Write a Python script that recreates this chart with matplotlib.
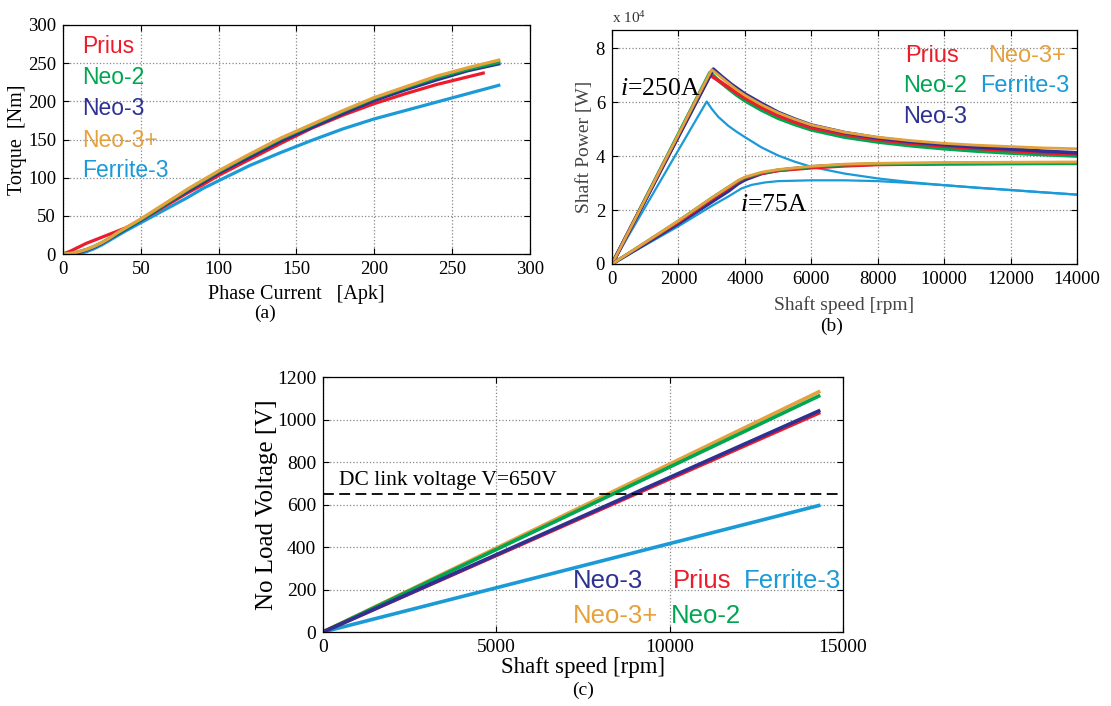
import numpy as np
import matplotlib
matplotlib.use('Agg')
import matplotlib.pyplot as plt

# colours for the five machines
c_prius = '#ec1c2a'
c_neo2 = '#00a651'
c_neo3 = '#2e3192'
c_neo3p = '#e5a13c'
c_fer = '#1b9ad8'

#%% (a) torque vs phase current
cur = [0, 5, 10, 15, 20, 25, 30, 35, 40, 50, 60, 70, 80, 90, 100, 120, 140, 160, 180, 200, 220, 240, 260, 280]
tq_prius_cur = [0, 5, 10, 15, 20, 25, 30, 35, 40, 50, 60, 70, 80, 90, 100, 120, 140, 160, 180, 200, 220, 240, 260, 270]
tq_prius = [0, 4, 9, 14, 18, 22, 26, 30, 34, 44, 56, 68, 80, 91, 103, 124, 145, 165, 182, 197, 210, 222, 232, 237]
tq_neo2 = [0, 1, 3, 6, 10, 15, 21, 27, 33, 45, 58, 71, 84, 96, 108, 130, 151, 169, 187, 204, 218, 231, 242, 251]
tq_neo3 = [0, 1, 2, 5, 9, 14, 20, 26, 32, 44, 57, 70, 82, 94, 106, 127, 148, 166, 184, 201, 215, 228, 240, 249]
tq_neo3p = [0, 1, 3, 6, 10, 15, 21, 28, 34, 46, 59, 72, 85, 97, 109, 131, 152, 170, 188, 205, 219, 233, 244, 254]
tq_fer = [0, 0, 0, 3, 7, 12, 18, 24, 30, 41, 52, 63, 74, 86, 96, 116, 133, 149, 164, 177, 188, 199, 210, 221]

#%% (b) shaft power [x 1e4 W] vs speed, i=250A
pk_rpm = [0, 2950, 3200, 3500, 3750, 4000, 4500, 5000, 5500, 6000, 7000, 8000, 9000, 10000, 11000, 12000, 13000, 14000]
p250_prius = [0, 7.0, 6.8, 6.55, 6.34, 6.15, 5.8, 5.5, 5.26, 5.05, 4.8, 4.6, 4.47, 4.37, 4.28, 4.2, 4.12, 4.07]
p250_neo2 = [0, 7.1, 6.8, 6.5, 6.26, 6.05, 5.7, 5.4, 5.17, 4.97, 4.7, 4.52, 4.38, 4.27, 4.18, 4.11, 4.05, 4.0]
pk_rpm_neo3 = [0, 3050, 3300, 3600, 4000, 4500, 5000, 5500, 6000, 7000, 8000, 9000, 10000, 11000, 12000, 13000, 14000]
p250_neo3 = [0, 7.22, 6.95, 6.65, 6.3, 5.95, 5.62, 5.37, 5.15, 4.87, 4.67, 4.53, 4.42, 4.33, 4.26, 4.18, 4.12]
pk_rpm_neo3p = [0, 3000, 3250, 3500, 3750, 4000, 4500, 5000, 5500, 6000, 7000, 8000, 9000, 10000, 11000, 12000, 13000, 14000]
p250_neo3p = [0, 7.2, 6.95, 6.7, 6.46, 6.25, 5.9, 5.6, 5.36, 5.15, 4.88, 4.7, 4.57, 4.47, 4.4, 4.35, 4.3, 4.27]
fer_rpm = [0, 2850, 3000, 3200, 3500, 3750, 4000, 4500, 5000, 5500, 6000, 7000, 8000, 9000, 10000, 11000, 12000, 13000, 14000]
p250_fer = [0, 6.02, 5.75, 5.45, 5.12, 4.9, 4.7, 4.32, 4.02, 3.79, 3.6, 3.35, 3.17, 3.03, 2.92, 2.82, 2.74, 2.65, 2.57]

# i=75A
lo_rpm = [0, 1000, 2000, 3000, 3500, 3800, 4000, 4500, 5000, 6000, 7000, 8000, 10000, 12000, 14000]
p75_prius = [0, 0.78, 1.55, 2.4, 2.8, 3.05, 3.18, 3.35, 3.45, 3.55, 3.62, 3.67, 3.7, 3.71, 3.72]
p75_neo2 = [0, 0.8, 1.6, 2.45, 2.85, 3.08, 3.2, 3.38, 3.48, 3.6, 3.67, 3.7, 3.72, 3.72, 3.72]
p75_neo3 = [0, 0.75, 1.5, 2.3, 2.7, 2.98, 3.12, 3.35, 3.47, 3.6, 3.67, 3.7, 3.72, 3.73, 3.73]
p75_neo3p = [0, 0.8, 1.6, 2.45, 2.85, 3.1, 3.22, 3.4, 3.5, 3.62, 3.7, 3.73, 3.76, 3.77, 3.78]
fer_lo_rpm = [0, 1000, 2000, 3000, 3500, 3900, 4200, 4600, 5000, 6000, 7000, 8000, 9000, 10000, 12000, 14000]
p75_fer = [0, 0.7, 1.4, 2.15, 2.5, 2.8, 2.93, 3.02, 3.07, 3.1, 3.1, 3.07, 3.0, 2.92, 2.74, 2.57]

#%% (c) no load voltage vs speed
nl_rpm = [0, 14300]
v_prius = [0, 1030]
v_neo2 = [0, 1110]
v_neo3 = [0, 1040]
v_neo3p = [0, 1130]
v_fer = [0, 595]
v_dc = 650

serif = 'Liberation Serif'
sans = 'Liberation Sans'
plt.rcParams['font.family'] = serif
plt.rcParams['mathtext.fontset'] = 'custom'
plt.rcParams['mathtext.rm'] = 'Liberation Serif'
plt.rcParams['mathtext.it'] = 'Liberation Serif:italic'
plt.rcParams['xtick.direction'] = 'in'
plt.rcParams['ytick.direction'] = 'in'

fig = plt.figure(figsize=(11.11, 7.06), dpi=100)

def style(ax, fs):
    ax.grid(True, linestyle=':', color='#888888', linewidth=0.9)
    ax.tick_params(labelsize=fs, length=4, width=0.8, top=True, right=True, pad=5)
    for s in ax.spines.values():
        s.set_linewidth(0.9)

# (a)
ax1 = fig.add_axes([0.0567, 0.6402, 0.4203, 0.3244])
lw = 2.3
ax1.plot(cur, tq_fer, color=c_fer, lw=lw)
ax1.plot(tq_prius_cur, tq_prius, color=c_prius, lw=lw)
ax1.plot(cur, tq_neo3, color=c_neo3, lw=lw)
ax1.plot(cur, tq_neo2, color=c_neo2, lw=lw)
ax1.plot(cur, tq_neo3p, color=c_neo3p, lw=lw)
ax1.set_xlim(0, 300)
ax1.set_ylim(0, 300)
ax1.set_xticks(np.arange(0, 301, 50))
ax1.set_yticks(np.arange(0, 301, 50))
style(ax1, 13.5)
ax1.set_xlabel('Phase Current   [Apk]', fontsize=14.5, labelpad=5)
ax1.set_ylabel('Torque  [Nm]', fontsize=14.5, labelpad=1)
for name, col, yy in [('Prius', c_prius, 272), ('Neo-2', c_neo2, 231), ('Neo-3', c_neo3, 191),
                      ('Neo-3+', c_neo3p, 149), ('Ferrite-3', c_fer, 109)]:
    ax1.text(12, yy, name, color=col, fontsize=16.5, family=sans, va='center')
fig.text(0.2385, 1 - 313 / 706, '(a)', fontsize=14, ha='center', va='center')

# (b)
ax2 = fig.add_axes([0.5509, 0.6261, 0.4185, 0.3314])
ax2.plot(fer_rpm, p250_fer, color=c_fer, lw=1.6)
ax2.plot(fer_lo_rpm, p75_fer, color=c_fer, lw=1.6)
ax2.plot(pk_rpm, p250_neo2, color=c_neo2, lw=2.6)
ax2.plot(pk_rpm, p250_prius, color=c_prius, lw=2.6)
ax2.plot(pk_rpm_neo3, p250_neo3, color=c_neo3, lw=2.6)
ax2.plot(pk_rpm_neo3p, p250_neo3p, color=c_neo3p, lw=2.0)
ax2.plot(lo_rpm, p75_neo3, color=c_neo3, lw=2.6)
ax2.plot(lo_rpm, p75_prius, color=c_prius, lw=2.0)
ax2.plot(lo_rpm, p75_neo2, color=c_neo2, lw=2.0)
ax2.plot(lo_rpm, p75_neo3p, color=c_neo3p, lw=2.0)
ax2.set_xlim(0, 14000)
ax2.set_ylim(0, 8.67)
ax2.set_xticks(np.arange(0, 14001, 2000))
ax2.set_yticks(np.arange(0, 9, 2))
style(ax2, 13.5)
ax2.set_xlabel('Shaft speed [rpm]', fontsize=14, color='#444444', labelpad=6)
ax2.set_ylabel('Shaft Power [W]', fontsize=14, color='#444444', labelpad=2)
ax2.text(0, 1.015, r'x 10$^4$', transform=ax2.transAxes, fontsize=11, color='#333333', va='bottom')
ax2.text(250, 6.5, r'$i$=250A', fontsize=18.5, va='center')
ax2.text(3850, 2.2, r'$i$=75A', fontsize=18.5, va='center')
for name, col, xx, yy in [('Prius', c_prius, 8820, 7.7), ('Neo-2', c_neo2, 8760, 6.6),
                          ('Neo-3', c_neo3, 8760, 5.45), ('Neo-3+', c_neo3p, 11320, 7.7),
                          ('Ferrite-3', c_fer, 11080, 6.6)]:
    ax2.text(xx, yy, name, color=col, fontsize=17, family=sans, va='center')
fig.text(832 / 1111, 1 - 326 / 706, '(b)', fontsize=14, ha='center', va='center')

# (c)
ax3 = fig.add_axes([0.2907, 0.1048, 0.468, 0.3612])
lw = 2.6
ax3.plot(nl_rpm, v_fer, color=c_fer, lw=lw)
ax3.plot(nl_rpm, v_neo3p, color=c_neo3p, lw=lw)
ax3.plot(nl_rpm, v_neo2, color=c_neo2, lw=lw)
ax3.plot(nl_rpm, v_prius, color=c_prius, lw=lw)
ax3.plot(nl_rpm, v_neo3, color=c_neo3, lw=lw)
ax3.axhline(v_dc, color='black', lw=1.3, linestyle=(0, (6, 3)))
ax3.set_xlim(0, 15000)
ax3.set_ylim(0, 1200)
ax3.set_xticks(np.arange(0, 15001, 5000))
ax3.set_yticks(np.arange(0, 1201, 200))
style(ax3, 14)
ax3.set_xlabel('Shaft speed [rpm]', fontsize=16.5, labelpad=1)
ax3.set_ylabel('No Load Voltage [V]', fontsize=18, labelpad=-1)
ax3.text(450, 712, 'DC link voltage V=650V', fontsize=15.5, va='center')
for name, col, xx, yy in [('Neo-3', c_neo3, 7200, 240), ('Prius', c_prius, 10100, 240),
                          ('Ferrite-3', c_fer, 12150, 240), ('Neo-3+', c_neo3p, 7200, 75),
                          ('Neo-2', c_neo2, 10050, 75)]:
    ax3.text(xx, yy, name, color=col, fontsize=18.5, family=sans, va='center', clip_on=False)
fig.text(583 / 1111, 1 - 690 / 706, '(c)', fontsize=14, ha='center', va='center')

fig.savefig('out.png', dpi=100)
